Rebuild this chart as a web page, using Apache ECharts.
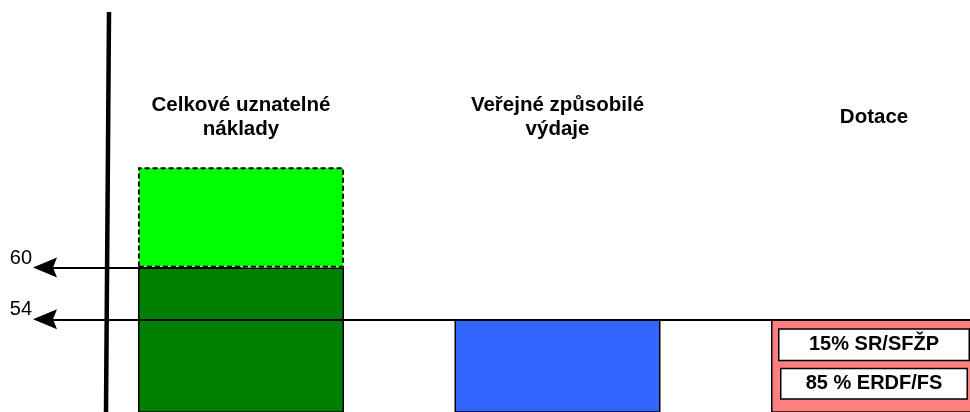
<!DOCTYPE html>
<html>
<head>
<meta charset="utf-8">
<script src="https://cdn.jsdelivr.net/npm/echarts@6/dist/echarts.min.js"></script>
<style>
html, body { margin: 0; padding: 0; background: #fff; }
#chart { width: 970px; height: 412px; }
</style>
</head>
<body>
<div id="chart"></div>
<script>
// data
var categories = ['Celkové uznatelné\nnáklady', 'Veřejné způsobilé\nvýdaje', 'Dotace'];
var baseValues = [60, 54, 54];
var extraValues = [11.6, '-', '-'];
var refLevels = [60, 54];
var fundingShares = ['15% SR/SFŽP', '85 % ERDF/FS'];

var barColors = ['#008000', '#3366ff', '#ff8080'];
var font = '"Liberation Sans", Arial, sans-serif';

var chart = echarts.init(document.getElementById('chart'));

var baseData = baseValues.map(function (v, i) {
    var item = { value: v, itemStyle: { color: barColors[i] } };
    if (i === 2) {
        // the two share boxes inside the Dotace bar
        item.label = {
            show: true,
            position: 'insideTop',
            distance: 6,
            formatter: '{a|' + fundingShares[0] + '}\n{b|' + fundingShares[1] + '}',
            rich: {
                a: {
                    width: 189, height: 30, lineHeight: 39, align: 'center',
                    backgroundColor: '#fff', borderColor: '#000', borderWidth: 1.5,
                    fontSize: 20, fontWeight: 'bold', color: '#000', fontFamily: font
                },
                b: {
                    width: 185, height: 29, lineHeight: 39, align: 'center',
                    backgroundColor: '#fff', borderColor: '#000', borderWidth: 1.5,
                    fontSize: 20, fontWeight: 'bold', color: '#000', fontFamily: font
                }
            }
        };
    }
    return item;
});

chart.setOption({
    animation: false,
    grid: {
        left: 82.75,
        right: -62.25,
        top: 150,
        bottom: 0,
        containLabel: false,
        outerBoundsMode: 'none'
    },
    xAxis: {
        type: 'category',
        position: 'top',
        data: categories,
        axisLine: { show: false },
        axisTick: { show: false },
        splitLine: { show: false },
        axisLabel: {
            interval: 0,
            margin: 33,
            verticalAlign: 'middle',
            color: '#000',
            fontSize: 20.5,
            fontWeight: 'bold',
            lineHeight: 24,
            fontFamily: font
        }
    },
    yAxis: {
        type: 'value',
        show: false,
        min: 43.26,
        max: 73.61,
        splitLine: { show: false }
    },
    graphic: [{
        type: 'line',
        z: 100,
        shape: { x1: 109, y1: 12, x2: 106, y2: 412 },
        style: { stroke: '#000', lineWidth: 4.5 }
    }],
    series: [
        {
            type: 'bar',
            stack: 'total',
            barWidth: 206,
            silent: true,
            itemStyle: { borderColor: '#000', borderWidth: 1.5 },
            data: baseData,
            markLine: {
                silent: true,
                symbol: ['path://M5,0 L10,12 L5,10 L0,12 Z', 'none'],
                symbolSize: [20, 24],
                lineStyle: { color: '#000', width: 2, type: 'solid' },
                label: {
                    show: true,
                    position: 'start',
                    distance: 13,
                    // empty second line lifts the number above the arrow
                    formatter: '{b}\n',
                    lineHeight: 19,
                    color: '#000',
                    fontSize: 20,
                    fontFamily: font
                },
                data: [
                    [{ name: String(refLevels[0]), x: 45, yAxis: refLevels[0] },
                     { xAxis: categories[0], yAxis: refLevels[0] }],
                    [{ name: String(refLevels[1]), x: 45, yAxis: refLevels[1] },
                     { x: 970, yAxis: refLevels[1] }]
                ]
            }
        },
        {
            type: 'bar',
            stack: 'total',
            barWidth: 206,
            silent: true,
            itemStyle: {
                color: '#00ff00',
                borderColor: '#000',
                borderWidth: 1.8,
                borderType: [5, 3]
            },
            data: extraValues
        }
    ]
});
</script>
</body>
</html>
